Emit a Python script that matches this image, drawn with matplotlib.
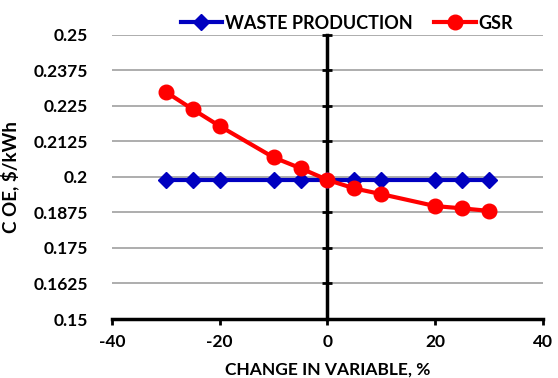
import matplotlib
matplotlib.use("Agg")
import matplotlib.pyplot as plt

x_vals = [-30, -25, -20, -10, -5, 0, 5, 10, 20, 25, 30]
waste_production = [0.199, 0.199, 0.199, 0.199, 0.199, 0.199, 0.199, 0.199, 0.199, 0.199, 0.199]
gsr = [0.2298, 0.2237, 0.2178, 0.2068, 0.2030, 0.1989, 0.1959, 0.1939, 0.1897, 0.1889, 0.1880]
y_ticks = [0.15, 0.1625, 0.175, 0.1875, 0.2, 0.2125, 0.225, 0.2375, 0.25]
y_tick_labels = ["0.15", "0.1625", "0.175", "0.1875", "0.2", "0.2125", "0.225", "0.2375", "0.25"]
x_ticks = [-40, -20, 0, 20, 40]

plt.rcParams['font.family'] = ['Lato', 'DejaVu Sans']
plt.rcParams['font.weight'] = 'bold'
plt.rcParams['axes.unicode_minus'] = False

fig = plt.figure(figsize=(5.58, 3.78), dpi=100)
ax = fig.add_axes([0.2007, 0.156, 0.7723, 0.7527])

ax.plot(x_vals, waste_production, color='#0000C0', lw=3, marker='D', markersize=8,
        label='WASTE PRODUCTION', zorder=3)
ax.plot(x_vals, gsr, color='#FF0000', lw=3, marker='o', markersize=10.5,
        label='GSR', zorder=4)

ax.set_xlim(-40, 40)
ax.set_ylim(0.15, 0.25)
ax.set_yticks(y_ticks)
ax.set_yticklabels(y_tick_labels)
ax.set_xticks(x_ticks)

ax.yaxis.grid(True, color='#A0A0A0', lw=1.2)
ax.set_axisbelow(True)

ax.spines['left'].set_visible(False)
ax.spines['top'].set_visible(False)
ax.spines['right'].set_position(('data', 0))
ax.spines['right'].set_linewidth(2.5)
ax.spines['right'].set_zorder(2)
ax.spines['bottom'].set_linewidth(2.5)

ax.tick_params(axis='y', left=False, right=True, labelleft=True, labelright=False,
               direction='inout', length=7, width=2, labelsize=12.5, pad=14)
ax.tick_params(axis='x', direction='out', length=4, width=2, labelsize=12.5, pad=7)
for t in ax.get_xticklabels() + ax.get_yticklabels():
    t.set_fontweight('bold')

ax.set_xlabel('CHANGE IN VARIABLE, %', fontsize=12.5, fontweight='bold', labelpad=8)
ax.set_ylabel('C OE, $/kWh', fontsize=13.5, fontweight='bold', labelpad=10)

leg = ax.legend(loc='lower center', bbox_to_anchor=(0.545, 0.985), ncol=2, frameon=False,
                fontsize=13, handlelength=2.3, columnspacing=1.2, handletextpad=0.15,
                borderaxespad=0)
for t in leg.get_texts():
    t.set_fontweight('bold')

fig.savefig('out.png', dpi=100)
